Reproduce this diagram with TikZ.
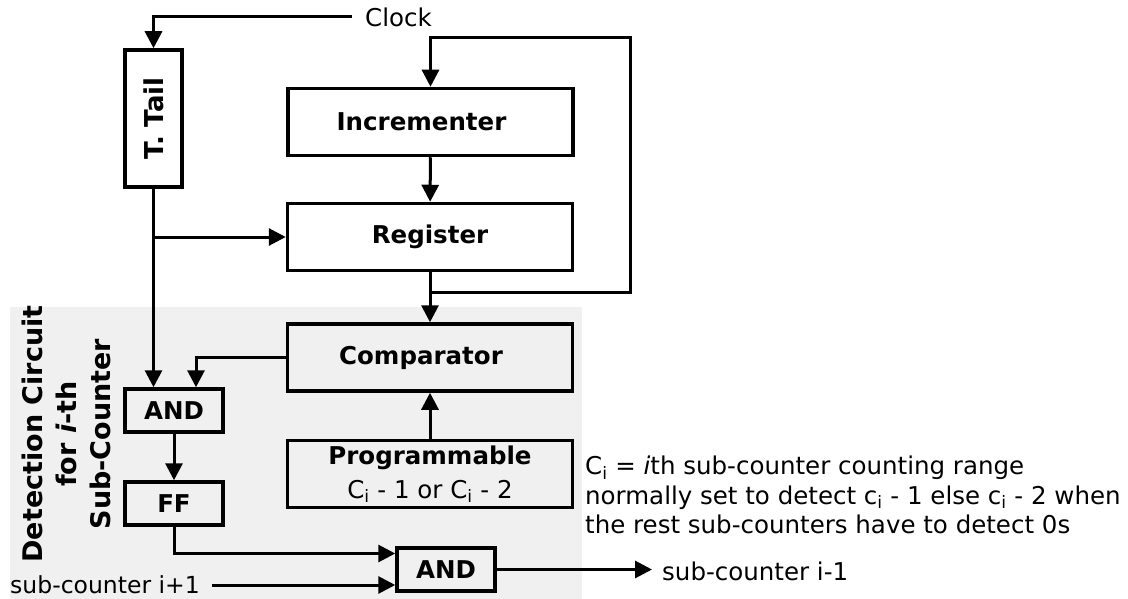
\documentclass[tikz,border=0pt]{standalone}
\usepackage{fontspec}
\setmainfont{DejaVu Sans}
\usetikzlibrary{arrows.meta,calc}
\newcommand\idx{\textsubscript{i}}
\definecolor{panelgrey}{HTML}{F0F0F0}
\tikzset{
  blk/.style={draw, line width=3.5pt, inner sep=0pt, font=\bfseries\fontsize{24.5}{30}\selectfont},
  bigblk/.style={blk, minimum width=285pt, minimum height=67pt},
  smallblk/.style={blk, minimum width=98pt, minimum height=43pt},
  wire/.style={line width=3pt, -{Triangle[length=17pt,width=17pt]}},
  lbl/.style={inner sep=0pt, font=\fontsize{24.5}{29}\selectfont},
}
\begin{document}
\begin{tikzpicture}[x=1pt, y=-1pt]
\useasboundingbox (0,0) rectangle (1128,599);
% shaded panel holding the detection circuit
\fill[panelgrey] (10,307) rectangle (582,599);
\node[rotate=90, align=center, inner sep=0pt,
      font=\bfseries\fontsize{27}{34}\selectfont] (det) at (66,434)
  {Detection Circuit\\for \textit{i}-th\\Sub-Counter};

% blocks
\node[blk, minimum width=57pt, minimum height=137pt] (tt) at (153.5,118.5) {};
\node[rotate=90, font=\bfseries\fontsize{26}{30}\selectfont, inner sep=0pt] (ttl) at (tt.center) {T. Tail};
\node[bigblk] (inc) at (430.5,122) {\hspace*{-18pt}Incrementer};
\node[bigblk] (reg) at (430,237) {Register};
\node[bigblk] (cmp) at (430,357.5) {\hspace*{-18pt}Comparator};
\node[bigblk, align=center, font=\bfseries\fontsize{24.5}{34}\selectfont] (prg) at (430,474)
  {Programmable\\\mdseries C\idx{} - 1 or C\idx{} - 2};
\node[smallblk] (and1) at (174,410.5) {AND};
\node[smallblk] (ff) at (174,503.5) {FF};
\node[smallblk] (and2) at (446,569.5) {AND};

% free ends and labels
\coordinate (clk) at (352,17);
\node[lbl, anchor=west] (clkl) at (365,17) {Clock};
\coordinate (fbtap) at (430,292);
\coordinate (fbright) at (630,292);
\coordinate (fbtop) at (630,38);
\coordinate (subin) at (212,585);
\node[lbl, anchor=east, font=\fontsize{23.5}{29}\selectfont] (subinl) at (200,585) {sub-counter i+1};
\coordinate (subout) at (652,569.5);
\node[lbl, anchor=west] (suboutl) at (662,571) {sub-counter i-1};
\node[lbl, anchor=west, align=left, font=\fontsize{24.5}{29.5}\selectfont] (note) at (585,495)
  {C\idx{} = \textit{i}th sub-counter counting range\\
   normally set to detect c\idx{} - 1 else c\idx{} - 2 when\\
   the rest sub-counters have to detect 0s};

% connections
\draw[wire] (clk) -| (tt.north);
\draw[wire] (inc) -- (reg);
\draw[wire] (reg.south) -- (cmp.north);
\draw[wire] (fbtap) -- (fbright) -- (fbtop) -| (inc.north);
\draw[wire] (tt.south) -- (tt.south |- and1.north);
\draw[wire] (tt.south |- reg.west) -- (reg.west);
\draw[wire] (cmp.west) -| ($(and1.north)+(22,0)$);
\draw[wire] (prg.north) -- (cmp.south);
\draw[wire] (and1) -- (ff);
\draw[wire] (ff.south) |- ($(and2.west)+(0,-16)$);
\draw[wire] (subin) -- (subin -| and2.west);
\draw[wire] (and2.east) -- (subout);
\end{tikzpicture}
\end{document}
